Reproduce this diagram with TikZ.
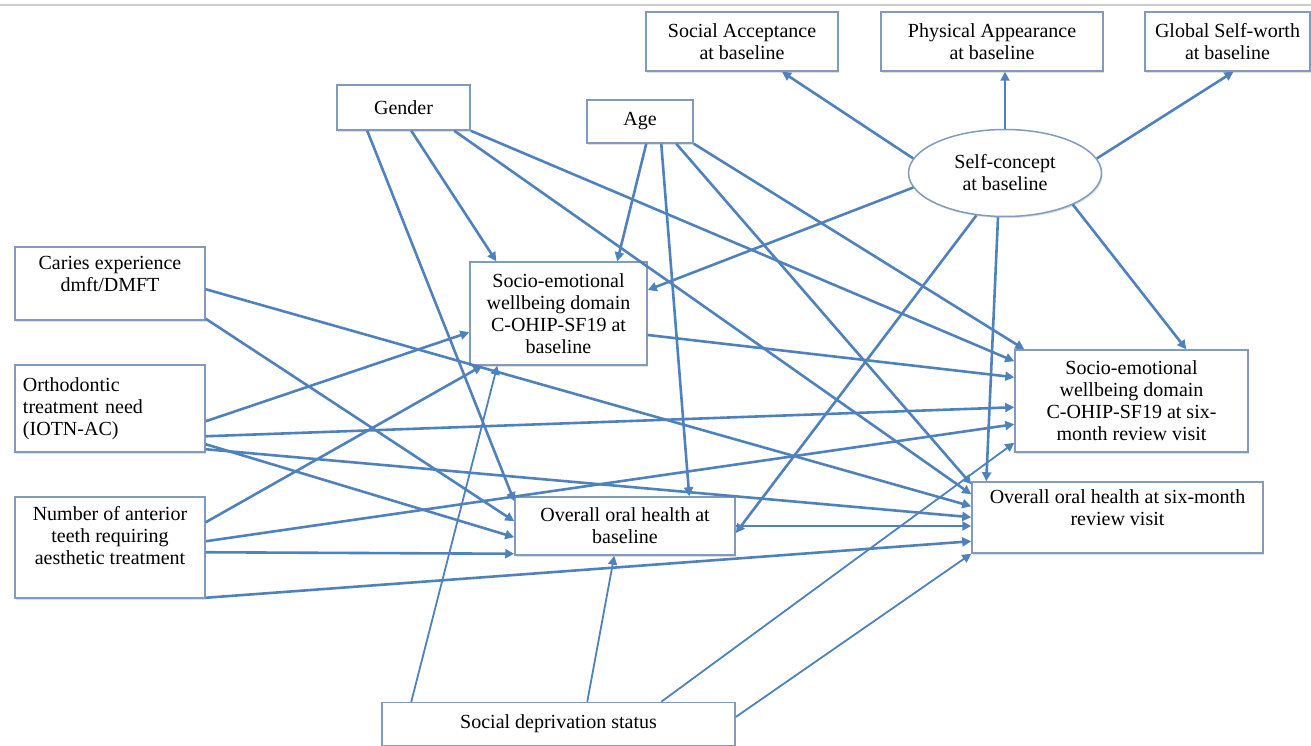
\documentclass[tikz,border=0pt]{standalone}
\usepackage{fontspec}
\setmainfont{Liberation Serif}
\usetikzlibrary{arrows.meta,shapes.geometric,shadows}
\definecolor{edgeblue}{RGB}{79,129,189}
\definecolor{boxline}{RGB}{130,155,188}

\begin{document}
\begin{tikzpicture}[
  x=1pt, y=-1pt,
  font=\fontsize{20}{22}\selectfont,
  box/.style={draw=boxline, line width=1.5pt, fill=white, align=center, inner sep=3pt,
              drop shadow={shadow xshift=1.2pt, shadow yshift=-1.6pt, opacity=0.25}},
  oval/.style={box, ellipse, inner sep=0pt},
  link/.style={-{Triangle[length=9pt,width=9pt]}, draw=edgeblue, line width=2.6pt},
  deplink/.style={link, line width=1.8pt}
]
  \useasboundingbox (0,0) rectangle (1311,746);
  \draw[gray!40, line width=1.2pt] (0,5) -- (1311,5);

  % self-concept and its domains
  \node[box, minimum width=192, minimum height=59] (accept) at (742,41.5) {Social Acceptance\\at baseline};
  \node[box, minimum width=222, minimum height=59] (appear) at (992,41.5) {Physical Appearance\\at baseline};
  \node[box, minimum width=165, minimum height=59] (worth) at (1227.5,41.5) {Global Self-worth\\at baseline};
  \node[oval, minimum width=193, minimum height=87] (self) at (1005,173) {Self-concept\\at baseline};

  % explanatory variables
  \node[box, minimum width=133, minimum height=45] (gender) at (403.5,107.5) {Gender};
  \node[box, minimum width=106, minimum height=43] (age) at (640,121.5) {Age};
  \node[box, minimum width=190, minimum height=73] (caries) at (110,283.5) {Caries experience\\dmft/DMFT\\[-10pt]\strut};
  \node[box, minimum width=190, minimum height=87, align=left, text width=174pt, inner xsep=8pt] (ortho) at (110,408.5) {Orthodontic\\treatment need\\(IOTN-AC)};
  \node[box, minimum width=190, minimum height=101] (teeth) at (110,547.5) {Number of anterior\\teeth requiring\\aesthetic treatment\\[-5pt]\strut};
  \node[box, minimum width=353, minimum height=43] (depriv) at (558.5,724) {Social deprivation status};

  % outcomes
  \node[box, minimum width=177, minimum height=103] (sewbase) at (558.5,313.5) {Socio-emotional\\wellbeing domain\\C-OHIP-SF19 at\\baseline};
  \node[box, minimum width=220, minimum height=58] (oralbase) at (625,526) {Overall oral health at\\baseline};
  \node[box, minimum width=233, minimum height=102] (sewsix) at (1131.5,401) {Socio-emotional\\wellbeing domain\\C-OHIP-SF19 at six-\\month review visit};
  \node[box, minimum width=291, minimum height=71] (oralsix) at (1117.5,517.5) {Overall oral health at six-month\\review visit\\[-9pt]\strut};

  % self-concept
  \draw[link] (self.171) -- ([xshift=40pt]accept.south);
  \draw[link] (self.north) -- (self.north |- appear.south);
  \draw[link] (self.9) -- ([xshift=6pt]worth.south);
  \draw[link] (self.189) -- ([yshift=23.5pt]sewbase.east);
  \draw[link] (self.236) -- ([yshift=-7pt]oralbase.east);
  \draw[link] ([xshift=-7pt]self.south) -- ([xshift=15pt]oralsix.north west);
  \draw[link] (self.-25) -- ([xshift=172pt]sewsix.north west);

  % gender and age
  \draw[link] ([xshift=31pt]gender.south west) -- ([yshift=-5pt]oralbase.north west);
  \draw[link] ([xshift=75pt]gender.south west) -- ([xshift=27pt]sewbase.north west);
  \draw[link] ([xshift=118pt]gender.south west) -- ([yshift=-13pt]oralsix.north west);
  \draw[link] (gender.south east) -- ([yshift=-12pt]sewsix.north west);
  \draw[link] ([xshift=60pt]age.south west) -- ([xshift=148pt]sewbase.north west);
  \draw[link] ([xshift=75pt]age.south west) -- ([xshift=175pt]oralbase.north west);
  \draw[link] ([xshift=90pt]age.south west) -- ([yshift=-3pt]oralsix.north west);
  \draw[link] (age.south east) -- ([xshift=10pt]sewsix.north west);

  % clinical measures
  \draw[link] ([yshift=-43pt]caries.north east) -- ([yshift=-25pt]oralsix.north west);
  \draw[link] ([yshift=2pt]caries.south east) -- ([yshift=-25pt]oralbase.north west);
  \draw[link] ([yshift=-57pt]ortho.north east) -- ([yshift=-71pt]sewbase.north west);
  \draw[link] ([yshift=-72pt]ortho.north east) -- ([yshift=-58pt]sewsix.north west);
  \draw[link] ([yshift=-80pt]ortho.north east) -- ([yshift=-41pt]oralbase.north west);
  \draw[link] ([yshift=-85pt]ortho.north east) -- ([yshift=-36pt]oralsix.north west);
  \draw[link] ([yshift=-26pt]teeth.north east) -- ([xshift=13pt]sewbase.south west);
  \draw[link] ([yshift=-45pt]teeth.north east) -- ([yshift=-75pt]sewsix.north west);
  \draw[link] ([yshift=-56pt]teeth.north east) -- ([yshift=2pt]oralbase.south west);
  \draw[link] ([yshift=1pt]teeth.south east) -- ([yshift=-60pt]oralsix.north west);

  % baseline to six-month
  \draw[link] ([yshift=-21.5pt]sewbase.east) -- ([yshift=-28pt]sewsix.north west);
  \draw[link] (oralbase.east) -- (oralbase.east -| oralsix.west);

  % social deprivation
  \draw[deplink] ([xshift=30pt]depriv.north west) -- ([xshift=28pt]sewbase.south west);
  \draw[deplink] ([xshift=206pt]depriv.north west) -- ([xshift=100pt]oralbase.south west);
  \draw[deplink] ([xshift=280pt]depriv.north west) -- ([yshift=10pt]sewsix.south west);
  \draw[deplink] ([yshift=7pt]depriv.east) -- (oralsix.south west);
\end{tikzpicture}
\end{document}
